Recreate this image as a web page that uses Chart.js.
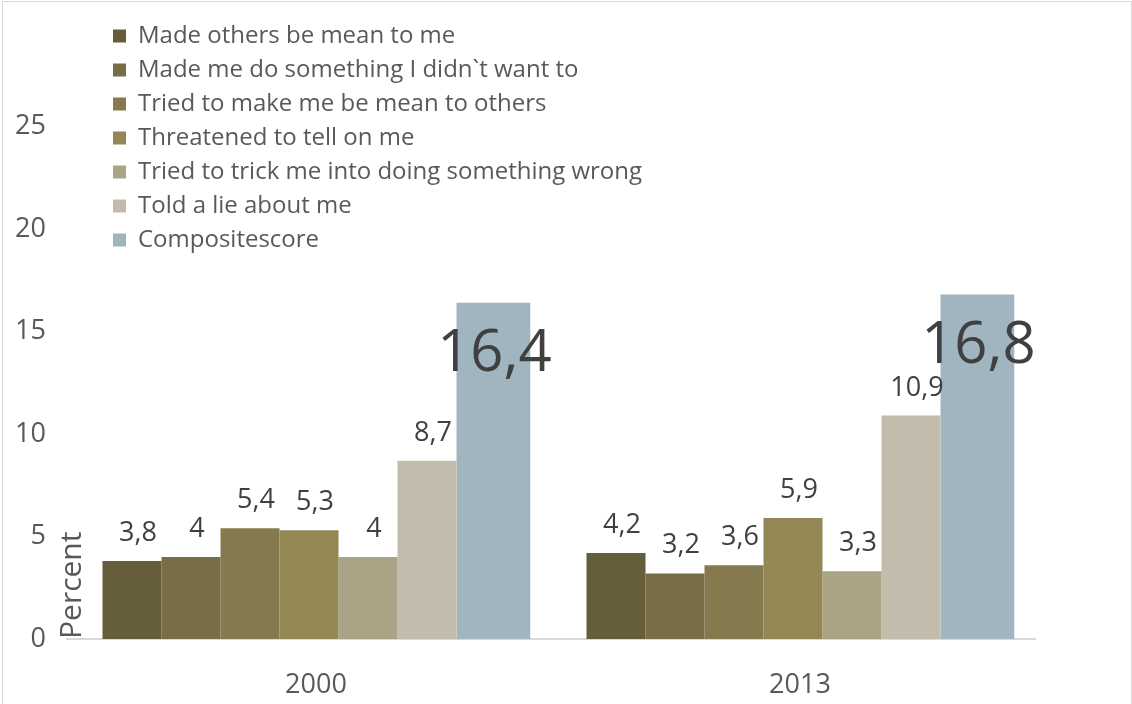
<!DOCTYPE html>
<html>
<head>
<meta charset="utf-8">
<script src="https://cdn.jsdelivr.net/npm/chart.js@4"></script>
<style>
  html, body { margin: 0; padding: 0; background: #fff; }
  #wrap { position: relative; width: 1132px; height: 704px; overflow: hidden; }
  #frame { position: absolute; left: 2px; top: 1px; width: 1128px; height: 710px;
           border: 1px solid #d9d9d9; pointer-events: none; }
</style>
</head>
<body>
<div id="wrap">
  <canvas id="bullyChart" width="1132" height="704"></canvas>
  <div id="frame"></div>
</div>
<script>
  const years = ["2000", "2013"];

  const seriesNames = [
    "Made others be mean to me",
    "Made me do something I didn`t want to",
    "Tried to make me be mean to others",
    "Threatened to tell on me",
    "Tried to trick me into doing something wrong",
    "Told a lie about me",
    "Compositescore"
  ];

  const madeOthersMean = [3.8, 4.2];
  const madeMeDo = [4, 3.2];
  const triedMakeMean = [5.4, 3.6];
  const threatenedTell = [5.3, 5.9];
  const triedTrick = [4, 3.3];
  const toldLie = [8.7, 10.9];
  const composite = [16.4, 16.8];

  const yTicks = [0, 5, 10, 15, 20, 25];

  const colors = ["#665e3a", "#776d46", "#857a4d", "#928755", "#aba385", "#c3bcac", "#a1b5c1"];
  const seriesValues = [madeOthersMean, madeMeDo, triedMakeMean, threatenedTell, triedTrick, toldLie, composite];

  const FONT = "'Open Sans', 'DejaVu Sans', sans-serif";

  const datasets = seriesValues.map((vals, i) => {
    const last = i === seriesValues.length - 1;
    return {
      label: seriesNames[i],
      data: vals,
      backgroundColor: colors[i],
      borderWidth: 0,
      // the composite bar is a bit wider than the others
      categoryPercentage: last ? 0.8889 : 0.8533,
      barPercentage: last ? 1.2 : 1.0
    };
  });

  const fmt = (v) => String(v).replace(".", ",");

  // value labels: small ones above the bars, big one inside the composite bar
  const valueLabels = {
    id: "valueLabels",
    afterDatasetsDraw(chart) {
      const ctx = chart.ctx;
      ctx.save();
      ctx.fillStyle = "#404040";
      ctx.textAlign = "center";
      ctx.textBaseline = "alphabetic";
      chart.data.datasets.forEach((ds, di) => {
        const meta = chart.getDatasetMeta(di);
        const big = di === chart.data.datasets.length - 1;
        meta.data.forEach((bar, i) => {
          const txt = fmt(ds.data[i]);
          if (big) {
            ctx.font = "58px " + FONT;
            ctx.fillText(txt, bar.x + 1, bar.y + 68);
          } else {
            ctx.font = "27px " + FONT;
            ctx.fillText(txt, bar.x + 6, bar.y - 20);
          }
        });
      });
      ctx.restore();
    }
  };

  // legend sits over the upper left part of the plot
  const legendPlace = {
    id: "legendPlace",
    afterLayout(chart) {
      const lg = chart.legend;
      if (!lg) return;
      lg.left = 103;
      lg.top = 14;
    }
  };

  const ctx = document.getElementById("bullyChart").getContext("2d");

  const myChart = new Chart(ctx, {
    type: "bar",
    data: { labels: years, datasets: datasets },
    plugins: [valueLabels, legendPlace],
    options: {
      responsive: false,
      animation: false,
      layout: { padding: { left: 0, right: 97, top: 24, bottom: 0 } },
      plugins: {
        legend: {
          position: "chartArea",
          align: "start",
          labels: {
            boxWidth: 13,
            boxHeight: 13,
            padding: 10,
            color: "#595959",
            font: { family: FONT, size: 24 }
          }
        },
        tooltip: { enabled: false }
      },
      scales: {
        x: {
          grid: { display: false },
          border: { display: true, color: "#d9d9d9", width: 2 },
          ticks: {
            color: "#595959",
            padding: 22,
            labelOffset: 7,
            font: { family: FONT, size: 27 }
          },
          afterFit: (scale) => { scale.height = 65; }
        },
        y: {
          min: 0,
          max: 30,
          grid: { display: false },
          border: { display: false },
          afterBuildTicks: (scale) => {
            scale.ticks = yTicks.concat([30]).map((v) => ({ value: v }));
          },
          ticks: {
            color: "#595959",
            padding: 13,
            font: { family: FONT, size: 27 },
            callback: (v) => (yTicks.includes(v) ? String(v) : "")
          },
          title: {
            display: true,
            text: "Percent",
            align: "start",
            color: "#595959",
            font: { family: FONT, size: 30 },
            padding: { top: 54.5, bottom: -54.5 }
          },
          afterFit: (scale) => {
            scale.width = 67;
            scale.paddingTop = 0;
            scale.paddingBottom = 0;
          }
        }
      }
    }
  });
</script>
</body>
</html>
